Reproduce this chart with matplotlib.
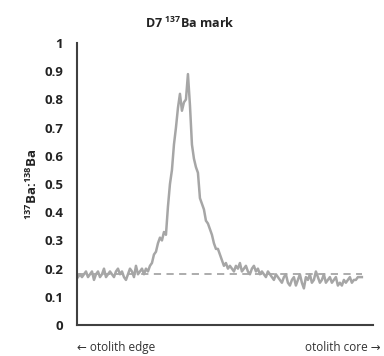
import matplotlib.pyplot as plt
import numpy as np

# 137Ba:138Ba ratio along the transect (edge -> core)
ratio = [
    0.17, 0.18, 0.17, 0.18, 0.19, 0.17, 0.18, 0.19, 0.16, 0.18,
    0.19, 0.17, 0.18, 0.20, 0.17, 0.18, 0.19, 0.18, 0.17, 0.19,
    0.20, 0.18, 0.19, 0.17, 0.16, 0.18, 0.20, 0.19, 0.17, 0.21,
    0.18, 0.19, 0.20, 0.18, 0.20, 0.19, 0.21,
    0.22, 0.25, 0.26, 0.29, 0.31, 0.30, 0.33, 0.32, 0.42, 0.50,
    0.55, 0.64, 0.70, 0.77, 0.82, 0.76, 0.79, 0.80, 0.89, 0.78,
    0.64, 0.59, 0.56, 0.54, 0.45, 0.43, 0.41, 0.37, 0.36, 0.34,
    0.32, 0.29, 0.27, 0.27, 0.25, 0.23, 0.21, 0.22, 0.20,
    0.21, 0.20, 0.19, 0.21, 0.20, 0.22, 0.19, 0.20, 0.21, 0.19,
    0.18, 0.20, 0.21, 0.19, 0.20, 0.18,
    0.19, 0.18, 0.17, 0.19, 0.18, 0.17, 0.16, 0.18, 0.17, 0.16,
    0.15, 0.17, 0.18, 0.15, 0.14,
    0.16, 0.17, 0.14, 0.16, 0.18, 0.15, 0.13, 0.17, 0.16, 0.18,
    0.15, 0.16, 0.19, 0.17, 0.15, 0.16, 0.18, 0.15, 0.16, 0.17,
    0.15, 0.16, 0.17, 0.14, 0.15, 0.14, 0.16, 0.15, 0.16, 0.17,
    0.15, 0.16, 0.16, 0.17, 0.17, 0.17,
]
background = 0.18
yticks = [0, 0.1, 0.2, 0.3, 0.4, 0.5, 0.6, 0.7, 0.8, 0.9, 1]
ytick_labels = ["0", "0.1", "0.2", "0.3", "0.4", "0.5", "0.6", "0.7", "0.8", "0.9", "1"]

plt.rcParams['font.family'] = ['Open Sans', 'DejaVu Sans']

x = np.arange(len(ratio))

fig = plt.figure(figsize=(3.84, 3.56), dpi=100)
ax = fig.add_axes([0.2005, 0.087, 0.7705, 0.792])

ax.plot(x, ratio, color='#a6a6a6', lw=1.8)
ax.plot([x[0], x[-1]], [background, background], color='#a6a6a6', lw=1.3,
        linestyle=(0, (4, 3)))

ax.set_ylim(0, 1)
ax.set_xlim(-0.5, 147.5)
ax.set_yticks(yticks)
ax.set_yticklabels(ytick_labels, fontsize=9.5, fontweight='bold', color='#222222')
ax.set_xticks([])
ax.tick_params(axis='y', length=0, pad=10)

for s in ['top', 'right']:
    ax.spines[s].set_visible(False)
for s in ['left', 'bottom']:
    ax.spines[s].set_color('#404040')
    ax.spines[s].set_linewidth(1.5)

ax.set_ylabel(r"$\mathregular{^{137}}$Ba:$\mathregular{^{138}}$Ba",
              fontsize=9.5, fontweight='bold', color='#222222', labelpad=3)

fig.text(0.495, 0.935, r"D7 $\mathregular{^{137}}$Ba mark", ha='center', va='center',
         fontsize=9, fontweight='bold', color='#222222')
fig.text(0.2, 0.025, "← otolith edge", ha='left', va='center', fontsize=8.5,
         color='#333333')
fig.text(0.99, 0.025, "otolith core →", ha='right', va='center', fontsize=8.5,
         color='#333333')

fig.savefig('out.png', dpi=100)
